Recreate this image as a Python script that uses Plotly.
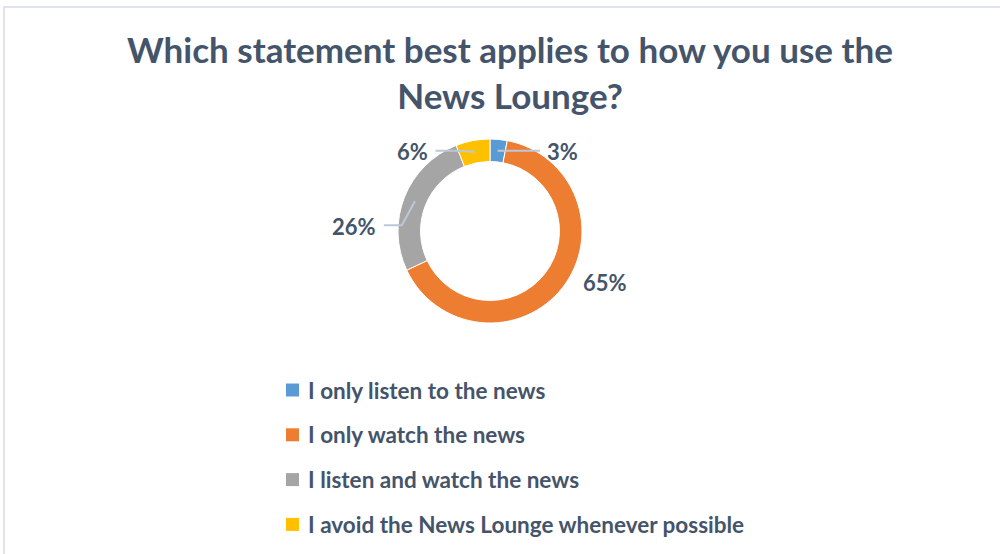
import math
import plotly.graph_objects as go

# Survey responses
categories = [
    "I only listen to the news",
    "I only watch the news",
    "I listen and watch the news",
    "I avoid the News Lounge whenever possible",
]
shares = [3, 65, 26, 6]
slice_colors = ["#5B9BD5", "#ED7D31", "#A5A5A5", "#FFC000"]
title_text = "Which statement best applies to how you use the<br>News Lounge?"

# Canvas and layout geometry (pixels)
W, H = 1000, 554
CX, CY = 490, 231          # ring centre
R_OUT = 92                 # outer radius
HOLE = 0.755               # inner / outer radius
TEXT_COLOR = "#44546A"
LEADER_COLOR = "#BCC8D8"
FONT = "Lato"

# label offsets from the slice anchor (dx, dy) and whether a leader line is drawn
label_offsets = [(65, 1), (51, 2), (-61, 25), (-62, 0)]
show_leader = [True, False, True, True]


def px(x):
    return x / W


def py(y):
    return 1 - y / H


fig = go.Figure()
fig.add_trace(go.Pie(
    labels=categories,
    values=shares,
    hole=HOLE,
    sort=False,
    direction="clockwise",
    rotation=0,
    textinfo="none",
    marker=dict(colors=slice_colors, line=dict(color="white", width=1)),
    domain=dict(x=[px(CX - R_OUT), px(CX + R_OUT)],
                y=[py(CY + R_OUT), py(CY - R_OUT)]),
    showlegend=False,
    hoverinfo="label+percent",
))

annotations = []
shapes = []

# Chart title
annotations.append(dict(
    x=px(510), y=py(72.5), xref="paper", yref="paper",
    text=title_text, showarrow=False, xanchor="center", yanchor="middle",
    align="center",
    font=dict(family=FONT, size=35, color=TEXT_COLOR, weight="bold"),
))

# Data labels with leader lines, anchored at each slice's mid-angle on the ring
total = sum(shares)
r_mid = R_OUT * (1 + HOLE) / 2
cum = 0
for i, v in enumerate(shares):
    mid = (cum + v / 2) / total * 2 * math.pi
    cum += v
    ax = CX + r_mid * math.sin(mid)
    ay = CY - r_mid * math.cos(mid)
    dx, dy = label_offsets[i]
    lx, ly = ax + dx, ay + dy
    text = f"{v}%"
    annotations.append(dict(
        x=px(lx), y=py(ly), xref="paper", yref="paper",
        text=text, showarrow=False, xanchor="center", yanchor="middle",
        font=dict(family=FONT, size=22, color=TEXT_COLOR, weight="bold"),
    ))
    if show_leader[i]:
        half = 7.3 * len(text) + 8
        side = 1 if dx > 0 else -1
        ex = lx - side * half
        ey = ly - 1
        elx = ex - side * 18
        path = (f"M {px(ax)} {py(ay)} L {px(elx)} {py(ey)} L {px(ex)} {py(ey)}")
        shapes.append(dict(type="path", path=path, xref="paper", yref="paper",
                           line=dict(color=LEADER_COLOR, width=2)))

# Legend: colour swatch plus label, one row per category
LEG_X, LEG_Y0, LEG_STEP, SW = 286, 390, 44.8, 13
for i, (name, col) in enumerate(zip(categories, slice_colors)):
    yc = LEG_Y0 + i * LEG_STEP
    shapes.append(dict(type="rect", xref="paper", yref="paper",
                       x0=px(LEG_X), x1=px(LEG_X + SW),
                       y0=py(yc + SW / 2), y1=py(yc - SW / 2),
                       fillcolor=col, line=dict(width=0)))
    annotations.append(dict(
        x=px(LEG_X + SW + 7), y=py(yc), xref="paper", yref="paper",
        text=name, showarrow=False, xanchor="left", yanchor="middle",
        font=dict(family=FONT, size=22.5, color=TEXT_COLOR, weight="bold"),
    ))

# Chart frame
shapes.append(dict(type="rect", xref="paper", yref="paper",
                   x0=px(4), x1=1.02, y0=-0.02, y1=py(7),
                   line=dict(color="#D6DCE4", width=1.5), layer="below"))

fig.update_layout(
    width=W, height=H,
    margin=dict(l=0, r=0, t=0, b=0),
    paper_bgcolor="white",
    plot_bgcolor="white",
    annotations=annotations,
    shapes=shapes,
)

fig.write_html("out.html")
